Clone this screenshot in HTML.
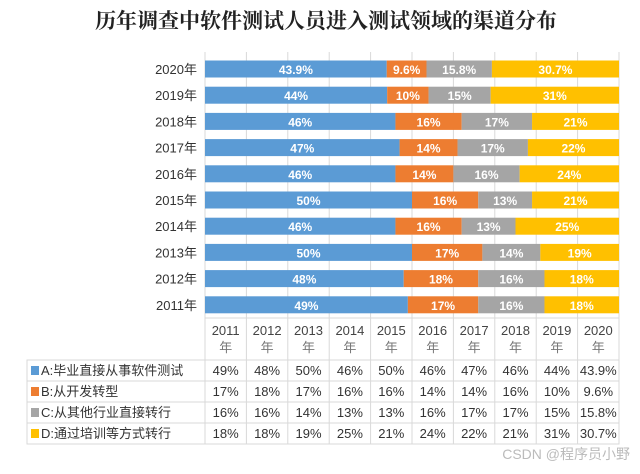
<!DOCTYPE html>
<html><head><meta charset="utf-8"><style>
body{margin:0;background:#fff;width:640px;height:469px;overflow:hidden;font-family:"Liberation Sans","Noto Sans CJK SC",sans-serif}
svg text{font-family:"Liberation Sans","Noto Sans CJK SC",sans-serif}
</style></head><body>
<svg id="c" width="640" height="469">
<text x="326" y="28" text-anchor="middle" font-size="21" font-weight="bold" fill="#222" style="font-family:'Liberation Serif','Noto Serif CJK SC',serif">历年调查中软件测试人员进入测试领域的渠道分布</text>
</svg>
<script>
const years=["2011年","2012年","2013年","2014年","2015年","2016年","2017年","2018年","2019年","2020年"];
const seriesNames=["A:毕业直接从事软件测试","B:从开发转型","C:从其他行业直接转行","D:通过培训等方式转行"];
const seriesA=[49,48,50,46,50,46,47,46,44,43.9];
const seriesB=[17,18,17,16,16,14,14,16,10,9.6];
const seriesC=[16,16,14,13,13,16,17,17,15,15.8];
const seriesD=[18,18,19,25,21,24,22,21,31,30.7];
const colors=["#5b9bd5","#ed7d31","#a5a5a5","#ffc000"];
const series=[seriesA,seriesB,seriesC,seriesD];
const svg=document.getElementById('c');const NS="http://www.w3.org/2000/svg";
function mk(t,a,p){const e=document.createElementNS(NS,t);for(const k in a)e.setAttribute(k,a[k]);(p||svg).appendChild(e);return e;}
const x0=205,x1=619,n=years.length,cw=(x1-x0)/n;
const yTop=69,ySp=26.2,bh=17;
function yPos(i){return yTop+(n-1-i)*ySp;} // i=0 -> 2011 bottom
// grid
for(let k=0;k<=n;k++){const g=mk('line',{x1:x0+k*cw,x2:x0+k*cw,y1:52,y2:444,stroke:'#d9d9d9'});
}
for(let i=0;i<n;i++){
 const tot=seriesA[i]+seriesB[i]+seriesC[i]+seriesD[i];let acc=0;const yc=yPos(i);
 const lb=mk('text',{x:197,y:yc+5,'text-anchor':'end','font-size':13,fill:'#333'});lb.textContent=years[i];
 
 for(let s=0;s<4;s++){const v=series[s][i];const xa=x0+acc/tot*(x1-x0);const w=v/tot*(x1-x0);acc+=v;
  const r=mk('rect',{x:xa,y:yc-bh/2,width:w,height:bh,fill:colors[s]});
  
  const t=mk('text',{x:xa+w/2,y:yc+5,'text-anchor':'middle','font-size':12,'font-weight':'bold',fill:'#fff'});t.textContent=v+'%';
  }
}
// table
const hy0=318,hy1=360,rh=21,lx=27;
mk('rect',{x:x0,y:hy0,width:x1-x0,height:hy1-hy0,fill:'none',stroke:'#d9d9d9'});
mk('rect',{x:lx,y:hy1,width:x1-lx,height:rh*4,fill:'none',stroke:'#d9d9d9'});
for(let r=1;r<4;r++)mk('line',{x1:lx,x2:x1,y1:hy1+r*rh,y2:hy1+r*rh,stroke:'#d9d9d9'});
mk('line',{x1:x0,x2:x0,y1:hy0,y2:hy1+4*rh,stroke:'#d9d9d9'});
for(let k=0;k<n;k++){const cx=x0+(n-1-k)*cw+cw/2;const ci=n-1-k;
 const cxx=x0+ci*cw+cw/2;
 const t1=mk('text',{x:cxx,y:335,'text-anchor':'middle','font-size':13,fill:'#444'});t1.textContent=years[ci].replace('年','');
 
 const t2=mk('text',{x:cxx,y:352,'text-anchor':'middle','font-size':13,fill:'#777'});t2.textContent='年';
 for(let s=0;s<4;s++){const t=mk('text',{x:cxx,y:hy1+s*rh+15,'text-anchor':'middle','font-size':13,fill:'#333'});t.textContent=series[s][ci]+'%';
  }
}
for(let s=0;s<4;s++){const y=hy1+s*rh;
 const r=mk('rect',{x:31,y:y+6,width:8,height:9,fill:colors[s]});
 const t=mk('text',{x:41,y:y+15,'font-size':13,fill:'#333'});t.textContent=seriesNames[s];
 }
const wm=mk('text',{x:630,y:459,'text-anchor':'end','font-size':14,fill:'#bbb'});wm.textContent='CSDN @程序员小野';

</script>
</body></html>
